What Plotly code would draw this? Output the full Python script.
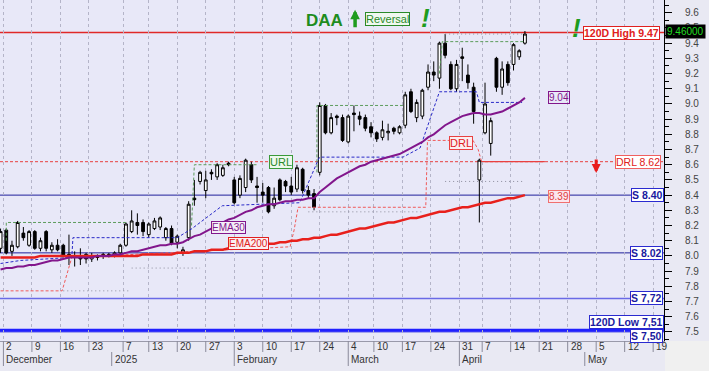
import plotly.graph_objects as go

# ---------------- data ----------------
opens = [8.05,8.17,8.03,8.06,8.15,8.07,8.16,8.05,8.16,8.04,8.07,8.07,8.01,8.00,7.99,8.01,7.98,8.00,8.00,8.01,8.00,8.02,
         8.07,8.16,8.22,8.22,8.14,8.18,8.19,8.12,8.18,8.09,8.02,8.12,
         8.38,8.49,8.43,8.55,8.52,8.53,8.61,8.50,8.40,8.45,8.60,8.46,8.42,8.45,8.33,8.50,8.49,8.46,8.44,8.57,8.43,8.41,
         8.55,8.99,8.81,8.92,8.91,8.75,8.94,8.92,8.91,8.85,8.81,8.78,8.81,8.84,8.81,8.86,9.08,8.91,8.92,
         9.11,9.21,9.17,9.40,9.26,9.10,9.31,9.19,9.11,8.50,8.81,8.74,9.30,9.11,9.26,9.26,9.31,9.40]
highs = [8.18,8.18,8.10,8.23,8.19,8.17,8.17,8.12,8.17,8.09,8.11,8.08,8.14,8.03,8.05,8.02,8.02,8.01,8.02,8.02,8.03,8.08,
         8.22,8.30,8.28,8.24,8.22,8.25,8.26,8.19,8.20,8.14,8.06,8.36,
         8.50,8.56,8.56,8.57,8.61,8.60,8.62,8.52,8.53,8.64,8.62,8.52,8.48,8.46,8.45,8.51,8.50,8.52,8.60,8.58,8.46,8.44,
         9.01,9.00,8.94,8.93,8.93,8.93,8.99,8.95,8.93,8.88,8.82,8.89,8.87,8.85,8.86,9.08,9.10,9.03,9.10,
         9.26,9.28,9.41,9.46,9.28,9.29,9.37,9.26,9.14,8.64,9.14,8.91,9.31,9.28,9.28,9.40,9.36,9.48]
lows = [8.02,8.01,8.00,8.05,8.10,8.06,8.04,8.03,8.03,8.02,8.03,7.99,7.94,7.93,7.94,7.95,7.96,7.97,7.98,7.99,7.99,8.01,
        8.06,8.15,8.14,8.13,8.12,8.17,8.17,8.10,8.07,8.05,8.00,8.10,
        8.33,8.47,8.38,8.50,8.50,8.52,8.59,8.34,8.38,8.42,8.48,8.35,8.35,8.28,8.31,8.36,8.42,8.40,8.42,8.41,8.38,8.30,
        8.53,8.80,8.80,8.86,8.75,8.74,8.82,8.86,8.82,8.78,8.75,8.76,8.76,8.80,8.80,8.84,8.94,8.88,8.90,
        9.09,9.15,9.10,9.30,9.09,9.08,9.15,9.10,8.87,8.22,8.80,8.66,9.08,9.06,9.12,9.22,9.29,9.39]
closes = [8.16,8.02,8.07,8.22,8.12,8.16,8.05,8.10,8.05,8.07,8.04,8.00,8.00,7.99,7.98,7.98,8.00,7.99,8.01,8.00,8.02,8.07,
          8.21,8.23,8.20,8.16,8.21,8.23,8.25,8.18,8.08,8.13,8.04,8.34,
          8.37,8.55,8.50,8.54,8.60,8.58,8.60,8.35,8.51,8.63,8.50,8.45,8.40,8.29,8.38,8.37,8.46,8.42,8.58,8.43,8.40,8.32,
          8.99,8.81,8.91,8.91,8.76,8.92,8.93,8.90,8.84,8.81,8.77,8.83,8.82,8.82,8.85,9.06,8.95,9.01,9.09,
          9.21,9.19,9.40,9.32,9.10,9.26,9.30,9.14,8.95,8.63,9.00,8.89,9.11,9.23,9.14,9.39,9.35,9.46]
days = list(range(len(closes)))

ema30 = [7.91,7.92,7.92,7.93,7.93,7.94,7.94,7.95,7.96,7.97,7.97,
         7.98,7.99,7.99,7.99,7.99,7.99,8.00,8.00,8.00,8.01,8.01,
         8.02,8.03,8.03,8.04,8.05,8.06,8.07,8.07,8.08,8.08,8.09,8.11,
         8.13,8.14,8.16,8.18,8.20,8.22,8.24,8.25,8.27,8.29,8.30,8.32,
         8.33,8.34,8.34,8.35,8.36,8.36,8.37,8.37,8.38,8.38,
         8.42,8.45,8.48,8.51,8.53,8.55,8.57,8.59,8.60,8.62,8.63,
         8.64,8.65,8.66,8.67,8.69,8.71,8.73,8.75,8.78,8.80,8.83,
         8.86,8.88,8.90,8.92,8.93,8.94,8.94,8.93,8.93,8.94,8.95,8.97,8.99,9.01,9.04]
ema200 = [7.99,7.99,7.99,7.99,7.99,7.99,7.99,8.00,8.00,8.00,8.00,8.00,8.00,8.00,8.00,8.00,8.00,8.00,8.00,8.00,8.00,
          8.00,8.00,8.00,8.00,8.01,8.01,8.01,8.01,8.01,8.01,8.02,8.02,8.02,8.03,8.03,8.03,8.04,8.04,8.04,8.05,
          8.05,8.05,8.06,8.06,8.07,8.07,8.08,8.08,8.09,8.09,8.10,8.10,8.11,8.11,8.12,8.12,8.13,8.14,8.14,8.15,
          8.16,8.17,8.18,8.18,8.19,8.20,8.21,8.22,8.22,8.23,8.24,8.25,8.25,8.26,8.27,8.28,8.29,8.29,8.30,8.31,
          8.32,8.32,8.33,8.34,8.35,8.35,8.36,8.37,8.38,8.38,8.39,8.40]

# trailing stop (blue dashed)
stop_x = [0, 3.5, 12.5, 12.7, 31, 33.6, 38.9, 52.5, 55.7, 56, 70.6, 73.6, 77, 83.5, 84, 91.5]
stop_y = [7.95, 7.97, 7.99, 8.12, 8.12, 8.18, 8.33, 8.35, 8.63, 8.65, 8.65, 8.71, 9.08, 9.08, 9.01, 9.01]
# reversal-line trail (red dotted)
drl_x = [0, 10.8, 12.5, 50.8, 51.5, 52.2, 74.6, 74.9, 82.9, 83.8, 84.4]
drl_y = [7.77, 7.77, 7.99, 8.06, 8.17, 8.32, 8.32, 8.76, 8.76, 8.70, 8.62]
# URL resistance segments (green dotted)
url_x = [1, 1, 22, None, 33.5, 34, 45, None, 55.5, 55.5, 70.6, None, 77, 77.5, 92]
url_y = [8.10, 8.22, 8.22, None, 8.20, 8.60, 8.60, None, 8.55, 8.99, 8.99, None, 9.20, 9.41, 9.41]
# grey dotted levels
grey_x = [11, 22.5, None, 23, 35, None, 54, 74, None, 78, 92, None, 78, 92]
grey_y = [7.77, 7.77, None, 7.92, 7.92, None, 8.29, 8.29, None, 8.49, 8.49, None, 9.46, 9.46]

high120 = 9.47
low120 = 7.51
drl_level = 8.62
last_price = 9.46
supports = [8.40, 8.02, 7.72, 7.50]
support_labels = ["S 8.40", "S 8.02", "S 7,72", "S 7,50"]

tick_pos = [0.5, 5.5, 10.5, 15.5, 21.5, 26, 31, 36, 41, 46, 51, 56, 61, 65.5, 70.5, 75.5, 80.5,
            84.5, 89.5, 94.5, 99.5, 104.5, 109.5, 114.5]
tick_text = ["2", "9", "16", "23", "7", "13", "20", "27", "3", "10", "17", "24", "4", "10", "17",
             "24", "31", "7", "14", "21", "28", "5", "12", "19"]
month_pos = [0.5, 19.5, 41, 61, 80.5, 102.5]
month_text = ["December", "2025", "February", "March", "April", "May"]

# ---------------- figure ----------------
FONT = "Arial, Liberation Sans, sans-serif"
fig = go.Figure()

fig.add_trace(go.Scatter(x=grey_x, y=grey_y, mode="lines",
                         line=dict(color="#8c8c9c", width=1, dash="1px,3px"), hoverinfo="skip"))
fig.add_trace(go.Scatter(x=url_x, y=url_y, mode="lines",
                         line=dict(color="#5c9c5c", width=1, dash="3px,2px"), hoverinfo="skip"))
fig.add_trace(go.Scatter(x=drl_x, y=drl_y, mode="lines",
                         line=dict(color="#f05a5a", width=1, dash="3px,2px"), hoverinfo="skip"))
fig.add_trace(go.Scatter(x=stop_x, y=stop_y, mode="lines",
                         line=dict(color="#2a2ac8", width=1, dash="3px,2px"), hoverinfo="skip"))
fig.add_trace(go.Scatter(x=days, y=ema200, mode="lines",
                         line=dict(color="#e8201c", width=2.5), hoverinfo="skip"))
fig.add_trace(go.Scatter(x=days, y=ema30, mode="lines",
                         line=dict(color="#82168c", width=2), hoverinfo="skip"))
fig.add_trace(go.Candlestick(
    x=days, open=opens, high=highs, low=lows, close=closes,
    increasing=dict(line=dict(color="black", width=1), fillcolor="white"),
    decreasing=dict(line=dict(color="black", width=1), fillcolor="black"),
    whiskerwidth=0, hoverinfo="skip"))

shapes = []
# horizontal levels
shapes.append(dict(type="line", xref="paper", x0=0, x1=1, yref="y", y0=high120, y1=high120,
                   line=dict(color="#e02828", width=1.5), layer="below"))
shapes.append(dict(type="line", xref="paper", x0=0, x1=1, yref="y", y0=drl_level, y1=drl_level,
                   line=dict(color="#e84040", width=1, dash="3px,2px"), layer="below"))
shapes.append(dict(type="line", xref="x", x0=84.4, x1=95.5, yref="y", y0=drl_level, y1=drl_level,
                   line=dict(color="#e84040", width=1.2), layer="below"))
sup_styles = [("#20209c", 1), ("#20209c", 1), ("#6a6ae6", 1.5), ("#3030e0", 1)]
for lvl, (c, w) in zip(supports, sup_styles):
    shapes.append(dict(type="line", xref="paper", x0=0, x1=1, yref="y", y0=lvl, y1=lvl,
                       line=dict(color=c, width=w), layer="below"))
shapes.append(dict(type="line", xref="paper", x0=0, x1=1, yref="y", y0=low120, y1=low120,
                   line=dict(color="#2020ff", width=3), layer="below"))

# x-axis boxes
yb0, yb1, yb2 = 0, -11 / 341, -25 / 341
for p in tick_pos:
    shapes.append(dict(type="line", xref="x", x0=p, x1=p, yref="paper", y0=yb0, y1=yb1,
                       line=dict(color="#8a8a9a", width=1)))
for p in month_pos:
    shapes.append(dict(type="line", xref="x", x0=p, x1=p, yref="paper", y0=yb1, y1=yb2,
                       line=dict(color="#8a8a9a", width=1)))
shapes.append(dict(type="rect", xref="paper", x0=1.0015, x1=1.08, yref="paper", y0=0, y1=-0.1,
                   fillcolor="#f0f0f0", line=dict(width=0)))

ann = []
for p, t in zip(tick_pos, tick_text):
    ann.append(dict(x=p, xref="x", y=-5.5 / 341, yref="paper", text=t, showarrow=False,
                    xanchor="left", yanchor="middle", xshift=1,
                    font=dict(family=FONT, size=10, color="#333")))
for p, t in zip(month_pos, month_text):
    ann.append(dict(x=p, xref="x", y=-18 / 341, yref="paper", text=t, showarrow=False,
                    xanchor="left", yanchor="middle", xshift=1,
                    font=dict(family=FONT, size=10, color="#333")))


def box(x, y, text, color, border, xref="x", xanchor="center", size=10, bg="#ffffff",
        bold=False, yshift=0):
    ann.append(dict(x=x, xref=xref, y=y, yref="y", text=f"<b>{text}</b>" if bold else text,
                    showarrow=False, xanchor=xanchor, yanchor="middle", yshift=yshift,
                    font=dict(family=FONT, size=size, color=color),
                    bgcolor=bg, bordercolor=border, borderwidth=1, borderpad=0))


box(0.994, high120, "120D High 9.47", "#e02020", "#e02020", xref="paper", xanchor="right",
    size=10.5, bold=True)
box(96.0, 9.04, "9.04", "#82168c", "#82168c", xanchor="left", bg="rgba(0,0,0,0)")
box(0.995, drl_level, "DRL 8.62", "#e02020", "#f06060", xref="paper", xanchor="right", size=10.5)
box(96.0, 8.39, "8.39", "#e04040", "#f07070", xanchor="left", bg="#fbe6ee")
box(1.0, 8.40, "S 8.40", "#1a1aa0", "#2a2ad0", xref="paper", xanchor="right", size=10.5, bold=True)
box(0.998, 8.02, "S 8.02", "#1a1aa0", "#2a2ad0", xref="paper", xanchor="right", size=10.5, bold=True)
box(0.998, 7.72, "S 7,72", "#1a1aa0", "#2a2ad0", xref="paper", xanchor="right", size=10.5, bold=True)
box(1.0, 7.565, "120D Low 7,51", "#1a1aa0", "#2a2ad0", xref="paper", xanchor="right", size=10.5, bold=True)
box(0.998, 7.47, "S 7,50", "#1a1aa0", "#2a2ad0", xref="paper", xanchor="right", size=10.5, bold=True)
box(40.0, 8.19, "EMA30", "#82168c", "#82168c", bg="#f4eef8")
box(43.5, 8.08, "EMA200", "#e02020", "#e02020", bg="#fbeef0")
box(49.2, 8.62, "URL", "#2a8a2a", "#3a9a3a", size=11, bg="#eef8ee")
box(80.8, 8.745, "DRL", "#e02020", "#e84040", size=11, bg="#fbeef0")
box(67.9, 9.56, "Reversal", "#2a8a2a", "#2a8a2a", size=11, bg="#f0f8f0")

ann.append(dict(x=56.9, xref="x", y=9.552, yref="y", text="<b>DAA</b>", showarrow=False,
                font=dict(family=FONT, size=17, color="#1e8c1e")))
ann.append(dict(x=74.5, xref="x", y=9.565, yref="y", text="<b><i>!</i></b>", showarrow=False,
                font=dict(family=FONT, size=26, color="#1e9c1e")))
ann.append(dict(x=101.0, xref="x", y=9.50, yref="y", text="<b><i>!</i></b>", showarrow=False,
                font=dict(family=FONT, size=26, color="#1e9c1e")))
ann.append(dict(x=62.2, xref="x", y=9.62, yref="y", text="", showarrow=True, ax=0, ay=19,
                arrowhead=2, arrowsize=0.55, arrowwidth=3.5, arrowcolor="#1e9c1e"))
ann.append(dict(x=104.5, xref="x", y=8.545, yref="y", text="", showarrow=True, ax=0, ay=-15,
                arrowhead=2, arrowsize=0.6, arrowwidth=3, arrowcolor="#e81c1c"))
ann.append(dict(x=1.0015, xref="paper", y=last_price, yref="y", yshift=3, text="9.46000",
                showarrow=False, xanchor="left", yanchor="middle", bgcolor="#000000", borderpad=1,
                font=dict(family=FONT, size=10, color="#22dd22")))

fig.update_layout(
    width=709, height=371,
    margin=dict(l=0, r=45, t=0, b=30, pad=0),
    plot_bgcolor="#e8e8f8", paper_bgcolor="#e9e9f3",
    showlegend=False, hovermode=False,
    shapes=shapes, annotations=ann,
    xaxis=dict(range=[-0.1, 116.4], tickvals=tick_pos, showticklabels=False, ticks="",
               showgrid=True, gridcolor="#b4b4c8", griddash="dot", gridwidth=1,
               zeroline=False, showline=True, linecolor="#9a9aaa", rangeslider=dict(visible=False)),
    yaxis=dict(range=[7.44, 9.684], side="right", tick0=7.5, dtick=0.1, tickformat=".1f",
               ticks="outside", ticklen=7, tickcolor="black", showline=True, linecolor="black",
               showgrid=False, zeroline=False, ticklabelstandoff=11,
               tickfont=dict(family=FONT, size=10, color="#444"),
               minor=dict(dtick=0.05, ticklen=4, tickcolor="black", ticks="outside", showgrid=False)),
)

fig.write_html("out.html", config={"displayModeBar": False},
               post_script="document.body.style.margin='0px';document.body.style.overflow='hidden';")
